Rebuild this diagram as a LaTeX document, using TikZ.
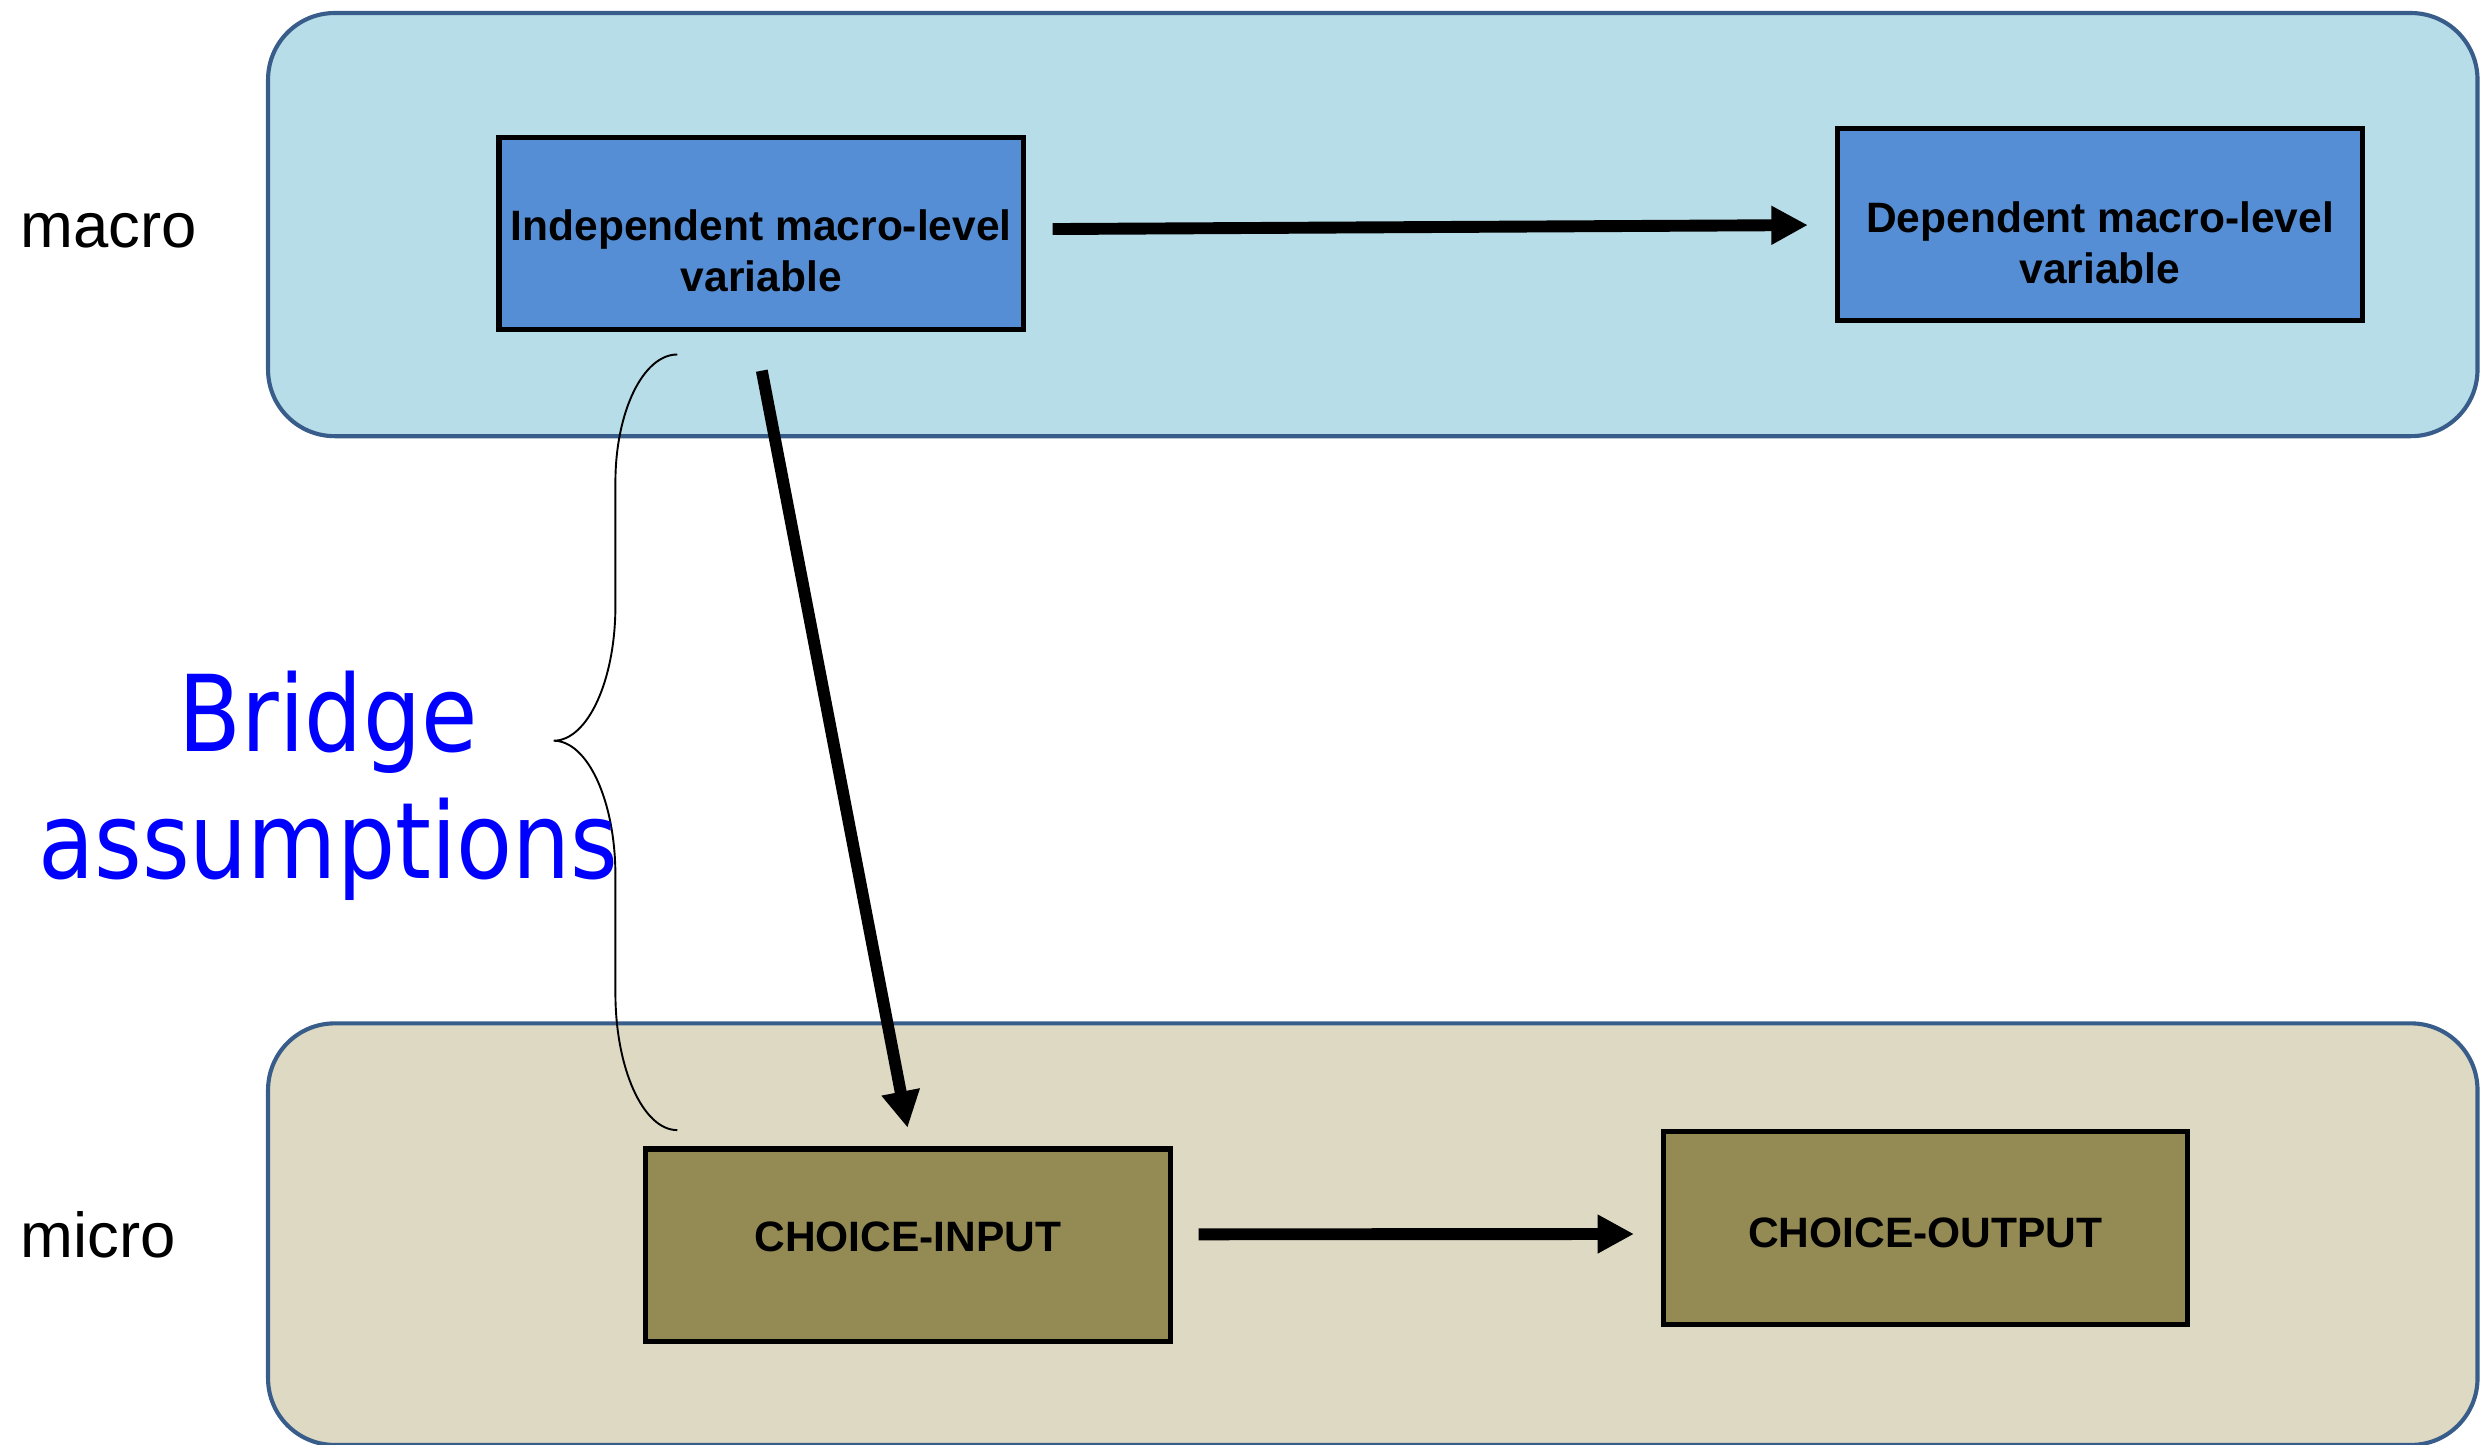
\documentclass[tikz,border=0pt]{standalone}
\usepackage{fontspec}
\setmainfont{Liberation Sans}
\newfontfamily\bridgefont[FakeStretch=0.865]{DejaVu Sans}
\usetikzlibrary{arrows.meta}
\definecolor{macrofill}{HTML}{B7DDE8}
\definecolor{microfill}{HTML}{DDD9C3}
\definecolor{frameblue}{HTML}{385D8A}
\definecolor{varblue}{HTML}{558ED5}
\definecolor{olivebox}{HTML}{948A54}
\definecolor{bridgeblue}{HTML}{0000FF}
\begin{document}
\begin{tikzpicture}[x=0.5pt,y=-0.5pt,
  levelbox/.style={draw=frameblue, line width=1.3pt, rounded corners=21pt},
  varbox/.style={draw=black, line width=1.6pt, fill=varblue, minimum width=165.4pt, minimum height=60.6pt, inner sep=0pt},
  choicebox/.style={varbox, fill=olivebox},
  boxtext/.style={font=\bfseries\fontsize{13.4}{16}\selectfont, anchor=base, inner sep=0pt},
  leveltext/.style={font=\fontsize{20}{24}\selectfont, anchor=base west, inner sep=0pt},
  bigarrow/.style={line width=3.75pt, -{Triangle[length=11.5pt,width=11.5pt]}},
  bracecurve/.style={line width=0.6pt}
]
\useasboundingbox (0,0) rectangle (1568,911);
% level bands
\draw[levelbox, fill=macrofill] (169,8.2) rectangle (1562,275);
\draw[levelbox, fill=microfill] (169,645.2) rectangle (1562,911);
% brace
\draw[bracecurve] (427,223.5) .. controls (405.5,223.5) and (388,259.6) .. (388,304)
  -- (388,382) .. controls (388,429) and (370.5,467) .. (349,467)
  .. controls (370.5,467) and (388,505) .. (388,552)
  -- (388,626) .. controls (388,673.7) and (405.5,712.5) .. (427,712.5);
% boxes
\node[varbox] (ind) at (480,147.4) {};
\node[boxtext] (indtext) at ([yshift=-2.15pt]ind.center) {\begin{tabular}[t]{@{}c@{}}Independent macro-level\\variable\end{tabular}};
\node[varbox] (dep) at (1324,141.5) {};
\node[boxtext] (deptext) at ([yshift=-2.5pt]dep.center) {\begin{tabular}[t]{@{}c@{}}Dependent macro-level\\variable\end{tabular}};
\node[choicebox] (cin) at (572.4,785) {};
\node[boxtext] (cintext) at ([yshift=-2.1pt]cin.center) {CHOICE-INPUT};
\node[choicebox] (cout) at (1213.9,774.2) {};
\node[boxtext] (couttext) at ([yshift=-6.1pt]cout.center) {CHOICE-OUTPUT};
% level labels
\node[leveltext] (macro) at (12.6,156) {macro};
\node[leveltext] (micro) at (12.6,792.7) {micro};
\node[font=\bridgefont\fontsize{33.4}{40}\selectfont, text=bridgeblue, anchor=base, inner sep=0pt] (bridge) at (207,473.6) {\begin{tabular}[t]{@{}c@{}}Bridge\\assumptions\end{tabular}};
% arrows
\draw[bigarrow] ([shift={(16.6,-3)}]ind.east) -- ([shift={(-17.2,0.4)}]dep.west);
\draw[bigarrow] ([shift={(0.3,24.1)}]ind.south) -- ([shift={(-0.2,-11.8)}]cin.north);
\draw[bigarrow] ([shift={(16.3,-6.8)}]cin.east) -- ([shift={(-16.7,3.8)}]cout.west);
\end{tikzpicture}
\end{document}
